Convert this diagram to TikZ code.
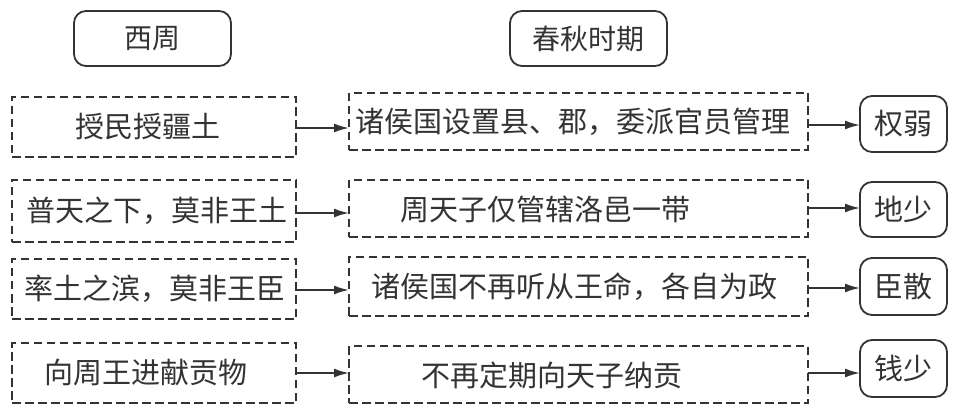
\documentclass[tikz,border=0pt]{standalone}
\usepackage{fontspec}
\setmainfont{Noto Sans CJK SC}
\usetikzlibrary{arrows.meta}
\definecolor{ink}{HTML}{333333}
\begin{document}
\begin{tikzpicture}[x=1pt,y=-1pt,
  every node/.style={inner sep=0pt, outer sep=0pt, text=ink},
  txt/.style={font=\fontsize{29pt}{34pt}\selectfont},
  htxt/.style={font=\fontsize{28pt}{33pt}\selectfont},
  dbox/.style={draw=ink, dash pattern=on 8.5pt off 4.5pt, line width=1.8pt},
  rbox/.style={draw=ink, rounded corners=12pt, line width=1.8pt},
  arr/.style={draw=ink, line width=1.8pt, -{Latex[length=15pt,width=9pt]}}]
\useasboundingbox (0,0) rectangle (960,411);
% headers
\node[rbox, htxt, minimum width=157pt, minimum height=55pt] (h1) at (152.5,38.5) {西周};
\node[rbox, htxt, minimum width=157pt, minimum height=55pt] (h2) at (588.5,38.5) {春秋时期};
% left boxes
\node[dbox, minimum width=284pt, minimum height=60pt] (L1) at (154,127) {};
\node[dbox, minimum width=284pt, minimum height=62pt] (L2) at (154,211) {};
\node[dbox, minimum width=284pt, minimum height=60pt] (L3) at (154,289) {};
\node[dbox, minimum width=284pt, minimum height=60pt] (L4) at (154,373) {};
\node[txt] (lt1) at (148,127) {授民授疆土};
\node[txt] (lt2) at (157,211) {普天之下，莫非王土};
\node[txt] (lt3) at (155,289) {率土之滨，莫非王臣};
\node[txt] (lt4) at (146,373) {向周王进献贡物};
% middle boxes
\node[dbox, minimum width=459pt, minimum height=57pt] (M1) at (578.5,121.5) {};
\node[dbox, minimum width=459pt, minimum height=57pt] (M2) at (578.5,208.5) {};
\node[dbox, minimum width=459pt, minimum height=59pt] (M3) at (578.5,286.5) {};
\node[dbox, minimum width=459pt, minimum height=57pt] (M4) at (578.5,374.5) {};
\node[txt] (mt1) at (573,122) {诸侯国设置县、郡，委派官员管理};
\node[txt] (mt2) at (545,209) {周天子仅管辖洛邑一带};
\node[txt] (mt3) at (574,287) {诸侯国不再听从王命，各自为政};
\node[txt] (mt4) at (552,375) {不再定期向天子纳贡};
% right boxes
\node[rbox, txt, minimum width=87pt, minimum height=56pt] (R1) at (903.5,124) {权弱};
\node[rbox, txt, minimum width=87pt, minimum height=55pt] (R2) at (903.5,209.5) {地少};
\node[rbox, txt, minimum width=87pt, minimum height=57pt] (R3) at (903.5,286.5) {臣散};
\node[rbox, txt, minimum width=87pt, minimum height=57pt] (R4) at (903.5,368.5) {钱少};
% arrow heights
\coordinate (a1) at (0,128);
\coordinate (a2) at (0,213);
\coordinate (a3) at (0,290);
\coordinate (a4) at (0,373);
\coordinate (b1) at (0,125);
\coordinate (b2) at (0,208);
\coordinate (b3) at (0,288);
\coordinate (b4) at (0,373);
\foreach \i in {1,2,3,4} {
  \draw[arr] (L\i.east |- a\i) -- (M\i.west |- a\i);
  \draw[arr] (M\i.east |- b\i) -- (R\i.west |- b\i);
}
\end{tikzpicture}
\end{document}
